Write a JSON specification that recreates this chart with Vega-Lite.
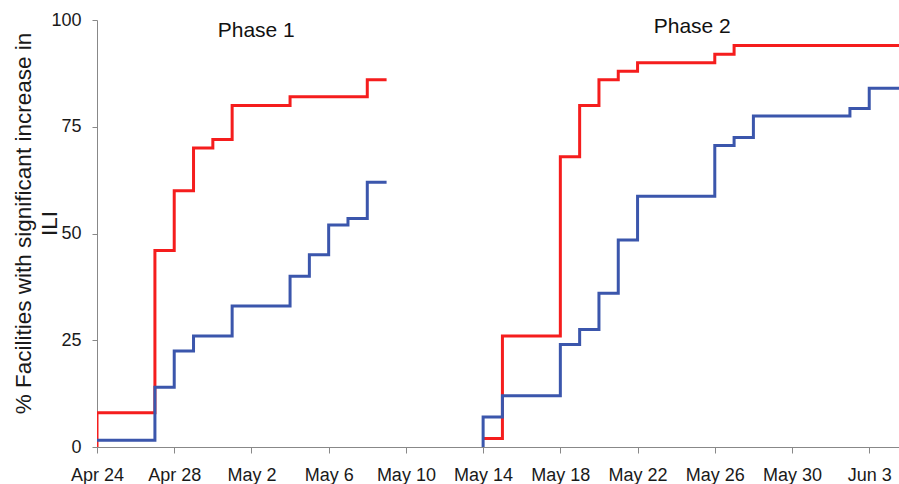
{
  "$schema": "https://vega.github.io/schema/vega-lite/v6.json",
  "width": 802,
  "height": 427,
  "autosize": "none",
  "padding": {"left": 97, "top": 20, "right": 0, "bottom": 37},
  "background": "white",
  "config": {
    "view": {"stroke": null},
    "font": "Liberation Sans",
    "axis": {"labelFont": "Liberation Sans", "titleFont": "Liberation Sans", "grid": false}
  },
  "datasets": {
    "steps": [
      {"series": "red", "phase": "1", "date": "2009-04-24", "pct": 0},
      {"series": "red", "phase": "1", "date": "2009-04-24", "pct": 8},
      {"series": "red", "phase": "1", "date": "2009-04-27", "pct": 46},
      {"series": "red", "phase": "1", "date": "2009-04-28", "pct": 60},
      {"series": "red", "phase": "1", "date": "2009-04-29", "pct": 70},
      {"series": "red", "phase": "1", "date": "2009-04-30", "pct": 72},
      {"series": "red", "phase": "1", "date": "2009-05-01", "pct": 80},
      {"series": "red", "phase": "1", "date": "2009-05-04", "pct": 82},
      {"series": "red", "phase": "1", "date": "2009-05-08", "pct": 86},
      {"series": "red", "phase": "1", "date": "2009-05-09", "pct": 86},
      {"series": "blue", "phase": "1", "date": "2009-04-24", "pct": 1.6},
      {"series": "blue", "phase": "1", "date": "2009-04-27", "pct": 14},
      {"series": "blue", "phase": "1", "date": "2009-04-28", "pct": 22.5},
      {"series": "blue", "phase": "1", "date": "2009-04-29", "pct": 26},
      {"series": "blue", "phase": "1", "date": "2009-05-01", "pct": 33},
      {"series": "blue", "phase": "1", "date": "2009-05-04", "pct": 40},
      {"series": "blue", "phase": "1", "date": "2009-05-05", "pct": 45},
      {"series": "blue", "phase": "1", "date": "2009-05-06", "pct": 52},
      {"series": "blue", "phase": "1", "date": "2009-05-07", "pct": 53.5},
      {"series": "blue", "phase": "1", "date": "2009-05-08", "pct": 62},
      {"series": "blue", "phase": "1", "date": "2009-05-09", "pct": 62},
      {"series": "red", "phase": "2", "date": "2009-05-14", "pct": 2},
      {"series": "red", "phase": "2", "date": "2009-05-15", "pct": 26},
      {"series": "red", "phase": "2", "date": "2009-05-18", "pct": 68},
      {"series": "red", "phase": "2", "date": "2009-05-19", "pct": 80},
      {"series": "red", "phase": "2", "date": "2009-05-20", "pct": 86},
      {"series": "red", "phase": "2", "date": "2009-05-21", "pct": 88},
      {"series": "red", "phase": "2", "date": "2009-05-22", "pct": 90},
      {"series": "red", "phase": "2", "date": "2009-05-26", "pct": 92},
      {"series": "red", "phase": "2", "date": "2009-05-27", "pct": 94},
      {"series": "red", "phase": "2", "date": "2009-06-04T13:00:00Z", "pct": 94},
      {"series": "blue", "phase": "2", "date": "2009-05-14", "pct": 0},
      {"series": "blue", "phase": "2", "date": "2009-05-14", "pct": 7},
      {"series": "blue", "phase": "2", "date": "2009-05-15", "pct": 12},
      {"series": "blue", "phase": "2", "date": "2009-05-18", "pct": 24},
      {"series": "blue", "phase": "2", "date": "2009-05-19", "pct": 27.5},
      {"series": "blue", "phase": "2", "date": "2009-05-20", "pct": 36},
      {"series": "blue", "phase": "2", "date": "2009-05-21", "pct": 48.5},
      {"series": "blue", "phase": "2", "date": "2009-05-22", "pct": 58.7},
      {"series": "blue", "phase": "2", "date": "2009-05-26", "pct": 70.6},
      {"series": "blue", "phase": "2", "date": "2009-05-27", "pct": 72.5},
      {"series": "blue", "phase": "2", "date": "2009-05-28", "pct": 77.5},
      {"series": "blue", "phase": "2", "date": "2009-06-02", "pct": 79.3},
      {"series": "blue", "phase": "2", "date": "2009-06-03", "pct": 84},
      {"series": "blue", "phase": "2", "date": "2009-06-04T13:00:00Z", "pct": 84}
    ],
    "labels": [
      {"date": "2009-05-02T06:00:00Z", "pct": 96.1, "text": "Phase 1"},
      {"date": "2009-05-24T20:00:00Z", "pct": 97.0, "text": "Phase 2"}
    ]
  },
  "layer": [
    {
      "data": {"name": "steps"},
      "mark": {"type": "line", "interpolate": "step-after", "strokeWidth": 3, "clip": true},
      "encoding": {
        "x": {
          "field": "date", "type": "temporal",
          "scale": {"type": "utc", "domain": [{"year": 2009, "month": 4, "date": 24, "utc": true}, {"year": 2009, "month": 6, "date": 4, "hours": 13, "utc": true}]},
          "axis": {
            "title": null,
            "values": [
              {"year": 2009, "month": 4, "date": 24, "utc": true},
              {"year": 2009, "month": 4, "date": 28, "utc": true},
              {"year": 2009, "month": 5, "date": 2, "utc": true},
              {"year": 2009, "month": 5, "date": 6, "utc": true},
              {"year": 2009, "month": 5, "date": 10, "utc": true},
              {"year": 2009, "month": 5, "date": 14, "utc": true},
              {"year": 2009, "month": 5, "date": 18, "utc": true},
              {"year": 2009, "month": 5, "date": 22, "utc": true},
              {"year": 2009, "month": 5, "date": 26, "utc": true},
              {"year": 2009, "month": 5, "date": 30, "utc": true},
              {"year": 2009, "month": 6, "date": 3, "utc": true}
            ],
            "format": "%b %-d",
            "labelFontSize": 18,
            "labelColor": "#1a1a1a",
            "labelPadding": 13,
            "tickSize": 6,
            "tickColor": "#888888",
            "domainColor": "#888888",
            "labelFlush": false,
            "labelOverlap": false
          }
        },
        "y": {
          "field": "pct", "type": "quantitative",
          "scale": {"domain": [0, 100], "nice": false},
          "axis": {
            "values": [0, 25, 50, 75, 100],
            "title": ["% Facilities with significant increase in", "ILI"],
            "titleFontSize": 22.5,
            "titleLineHeight": 26,
            "titleFontWeight": "normal",
            "titleColor": "#1a1a1a",
            "titleX": -62,
            "titleY": 203,
            "titleBaseline": "bottom",
            "titleAngle": -90,
            "titleAlign": "center",
            "labelFontSize": 18,
            "labelColor": "#1a1a1a",
            "labelPadding": 11,
            "tickSize": 5,
            "tickColor": "#888888",
            "domainColor": "#888888"
          }
        },
        "color": {
          "field": "series", "type": "nominal",
          "scale": {"domain": ["red", "blue"], "range": ["#f51d1d", "#3b56ac"]},
          "legend": null
        },
        "detail": {"field": "phase"}
      }
    },
    {
      "data": {"name": "labels"},
      "mark": {"type": "text", "fontSize": 21, "color": "#111111", "align": "center", "baseline": "alphabetic"},
      "encoding": {
        "x": {"field": "date", "type": "temporal"},
        "y": {"field": "pct", "type": "quantitative"},
        "text": {"field": "text"}
      }
    }
  ]
}
